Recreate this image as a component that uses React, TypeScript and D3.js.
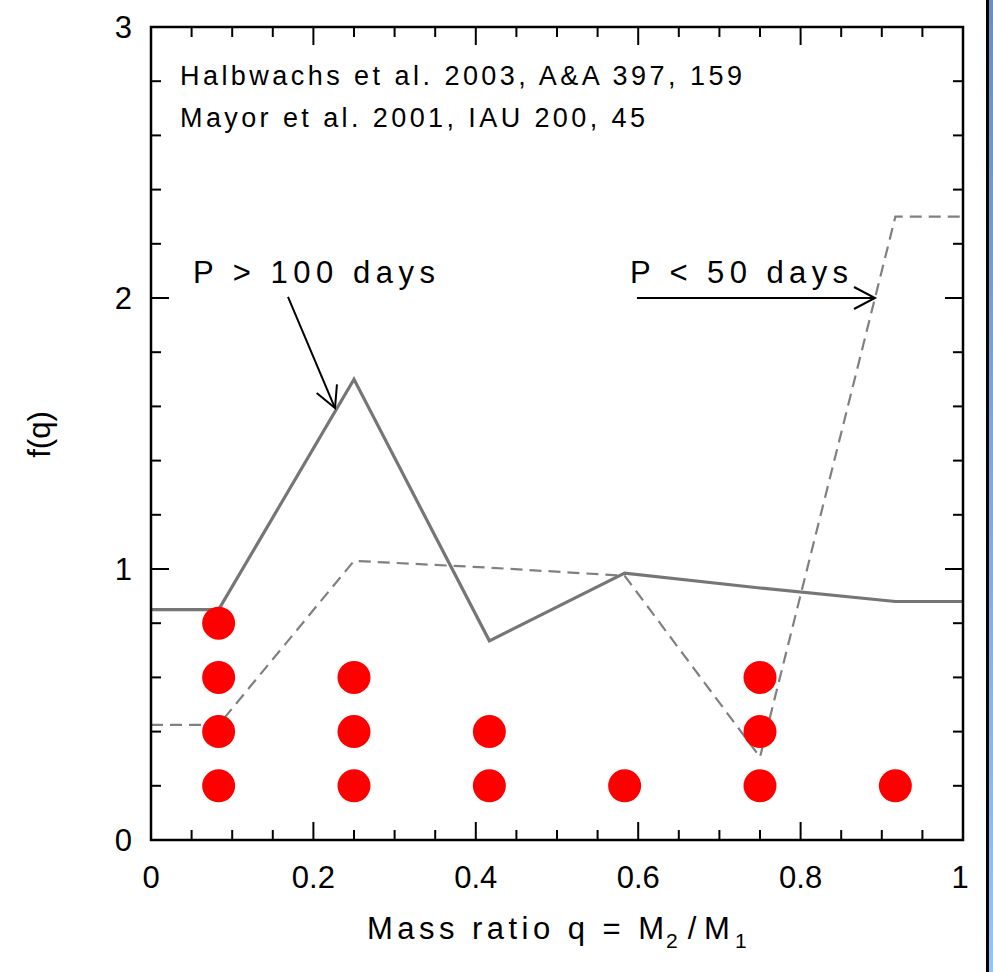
import React from "react";
import * as d3 from "d3";

const W = 993;
const H = 972;

// bin centres of the mass-ratio histogram
const qCentres = [0.0833, 0.25, 0.4167, 0.5833, 0.75, 0.9167];
// f(q) for P > 100 days (solid)
const longPeriod = [0.85, 1.7, 0.735, 0.985, 0.93, 0.88];
// f(q) for P < 50 days (dashed)
const shortPeriod = [0.425, 1.03, 1.005, 0.975, 0.306, 2.3];
// number of stars (dots) per bin
const dotCounts = [4, 3, 2, 1, 3, 1];
const dotStep = 0.2;

const xTicks = [0, 0.2, 0.4, 0.6, 0.8, 1];
const xTickLabels = ["0", "0.2", "0.4", "0.6", "0.8", "1"];
const yTicks = [0, 1, 2, 3];
const yTickLabels = ["0", "1", "2", "3"];

const refs = ["Halbwachs et al. 2003, A&A 397, 159", "Mayor et al. 2001, IAU 200, 45"];

const FONT = "'Liberation Sans', Arial, sans-serif";

export default function App() {
  const left = 151, right = 963, top = 27, bottom = 840;
  const x = d3.scaleLinear().domain([0, 1]).range([left, right]);
  const y = d3.scaleLinear().domain([0, 3]).range([bottom, top]);

  const pts = (vals: number[]) => {
    const p: [number, number][] = [[0, vals[0]]];
    qCentres.forEach((q, i) => p.push([q, vals[i]]));
    p.push([1, vals[vals.length - 1]]);
    return p;
  };
  const line = d3
    .line<[number, number]>()
    .x((d) => x(d[0]))
    .y((d) => y(d[1]));

  const xMinor = d3.range(0, 1.0001, 0.05);
  const yMinor = d3.range(0, 3.0001, 0.2);

  const dots: [number, number][] = [];
  qCentres.forEach((q, i) => {
    for (let k = 1; k <= dotCounts[i]; k++) dots.push([q, k * dotStep]);
  });

  const arrow = (x0: number, y0: number, x1: number, y1: number) => {
    const X0 = x(x0), Y0 = y(y0), X1 = x(x1), Y1 = y(y1);
    const dx = X1 - X0, dy = Y1 - Y0;
    const L = Math.hypot(dx, dy);
    const ux = dx / L, uy = dy / L;
    const hl = 21, hw = 11;
    const a = [X1 - hl * ux - hw * uy, Y1 - hl * uy + hw * ux];
    const b = [X1 - hl * ux + hw * uy, Y1 - hl * uy - hw * ux];
    return (
      <g stroke="#000" strokeWidth={2} fill="none">
        <line x1={X0} y1={Y0} x2={X1} y2={Y1} />
        <polyline points={`${a[0]},${a[1]} ${X1},${Y1} ${b[0]},${b[1]}`} />
      </g>
    );
  };

  return (
    <svg
      width={W}
      height={H}
      style={{ position: "absolute", left: 0, top: 0, background: "#fff" }}
      fontFamily={FONT}
    >
      <defs>
        <linearGradient id="edge" x1="0" y1="0" x2="0" y2="1">
          <stop offset="0" stopColor="#6a8fbd" />
          <stop offset="1" stopColor="#92c4f4" />
        </linearGradient>
      </defs>
      <rect x={0} y={0} width={W} height={H} fill="#fff" />
      <rect x={986} y={0} width={3} height={H} fill="#000" />
      <rect x={989} y={0} width={4} height={H} fill="url(#edge)" />

      {/* curves */}
      <path d={line(pts(shortPeriod)) || ""} fill="none" stroke="#808080" strokeWidth={2.2} strokeDasharray="12 7" />
      <path d={line(pts(longPeriod)) || ""} fill="none" stroke="#767676" strokeWidth={3.2} strokeLinejoin="miter" />

      {/* dots */}
      {dots.map((d, i) => (
        <circle key={i} cx={x(d[0])} cy={y(d[1])} r={16.5} fill="#ff0000" />
      ))}

      {/* frame */}
      <rect x={left} y={top} width={right - left} height={bottom - top} fill="none" stroke="#000" strokeWidth={2.5} />
      <g stroke="#000" strokeWidth={2}>
        {xMinor.map((v, i) => {
          const major = xTicks.some((t) => Math.abs(t - v) < 1e-6);
          const len = major ? 18 : 10;
          return (
            <g key={i}>
              <line x1={x(v)} x2={x(v)} y1={bottom} y2={bottom - len} />
              <line x1={x(v)} x2={x(v)} y1={top} y2={top + len} />
            </g>
          );
        })}
        {yMinor.map((v, i) => {
          const major = yTicks.some((t) => Math.abs(t - v) < 1e-6);
          const len = major ? 18 : 10;
          return (
            <g key={i}>
              <line x1={left} x2={left + len} y1={y(v)} y2={y(v)} />
              <line x1={right} x2={right - len} y1={y(v)} y2={y(v)} />
            </g>
          );
        })}
      </g>

      {/* tick labels */}
      <g fontSize={31} fill="#000">
        {xTicks.map((t, i) => (
          <text key={i} x={x(t) - (t === 1 ? 3 : 0)} y={888} textAnchor="middle">
            {xTickLabels[i]}
          </text>
        ))}
        {yTicks.map((t, i) => (
          <text key={i} x={132} y={y(t) + 11} textAnchor="end">
            {yTickLabels[i]}
          </text>
        ))}
      </g>

      {/* axis titles */}
      <text transform={`translate(50,${(top + bottom) / 2 + 1}) rotate(-90)`} textAnchor="middle" fontSize={31}>
        f(q)
      </text>
      <g fontSize={31}>
        <text x={367} y={939} textLength={297} lengthAdjust="spacing">
          Mass ratio q = M
        </text>
        <text x={666} y={948} fontSize={21}>2</text>
        <text x={692} y={939} textAnchor="middle">/</text>
        <text x={704} y={939}>M</text>
        <text x={735} y={948} fontSize={21}>1</text>
      </g>

      {/* references */}
      <g fontSize={27}>
        <text x={x(0.0357)} y={y(2.786)} textLength={562} lengthAdjust="spacing">
          {refs[0]}
        </text>
        <text x={x(0.0357)} y={y(2.631)} textLength={465} lengthAdjust="spacing">
          {refs[1]}
        </text>
      </g>

      {/* annotations */}
      <g fontSize={31}>
        <text x={x(0.0517)} y={y(2.055)} textLength={242} lengthAdjust="spacing">
          P &gt; 100 days
        </text>
        <text x={x(0.59)} y={y(2.055)} textLength={218} lengthAdjust="spacing">
          P &lt; 50 days
        </text>
      </g>
      {arrow(0.1687, 2.004, 0.2266, 1.594)}
      {arrow(0.5985, 2.0, 0.8916, 2.0)}
    </svg>
  );
}
